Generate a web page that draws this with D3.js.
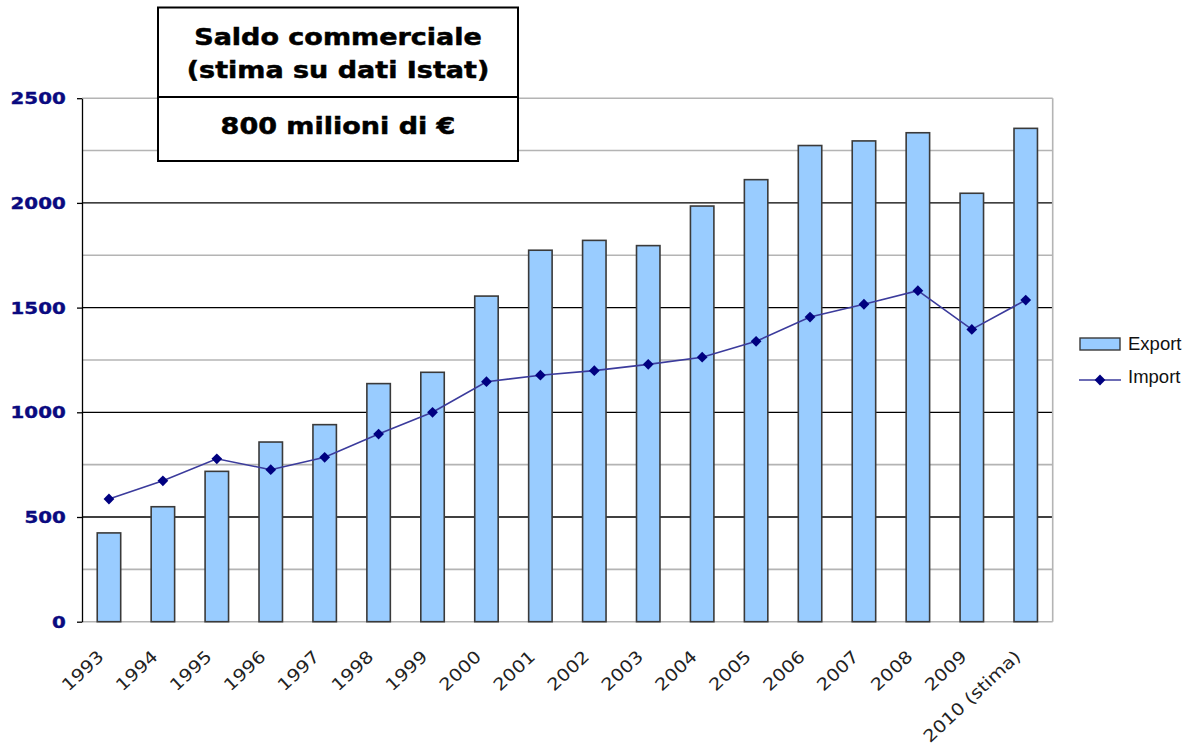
<!DOCTYPE html>
<html>
<head>
<meta charset="utf-8">
<script src="https://cdn.jsdelivr.net/npm/d3@7"></script>
<style>
  body { margin: 0; background: #fff; }
  svg { display: block; }
</style>
</head>
<body>
<div id="chart"></div>
<script>
// dati (milioni di euro)
var years = ["1993", "1994", "1995", "1996", "1997", "1998", "1999", "2000", "2001",
             "2002", "2003", "2004", "2005", "2006", "2007", "2008", "2009", "2010 (stima)"];
var exportVals = [424, 549, 718, 858, 941, 1137, 1191, 1555, 1774,
                  1821, 1796, 1985, 2111, 2274, 2296, 2335, 2046, 2356];
var importVals = [586, 673, 778, 726, 785, 896, 1000, 1146, 1177,
                  1199, 1229, 1263, 1339, 1455, 1516, 1581, 1396, 1536];
var titleLines = ["Saldo commerciale", "(stima su dati Istat)"];
var saldoText = "800 milioni di €";
var seriesNames = ["Export", "Import"];

var width = 1194, height = 749;
var stretch = 1.2; // il grafico originale e' allargato in orizzontale

var svg = d3.select("#chart").append("svg")
    .attr("width", width)
    .attr("height", height);

var x = d3.scaleBand()
    .domain(years)
    .range([82, 1052.7])
    .paddingInner(0.565)
    .paddingOuter(0.2825);

var y = d3.scaleLinear()
    .domain([0, 2500])
    .range([621.7, 98.2]);

var isMajor = d => d % 500 === 0 && d !== 0 && d !== 2500;

// griglia ogni 250
var gridVals = d3.range(0, 2501, 250);
svg.append("g").selectAll("line")
    .data(gridVals)
    .enter().append("line")
    .attr("x1", 82)
    .attr("x2", 1052.7)
    .attr("y1", d => y(d))
    .attr("y2", d => y(d))
    .attr("stroke", d => isMajor(d) ? "#000" : "#b4b4b4")
    .attr("stroke-width", d => isMajor(d) ? 1.3 : 1.6);

// bordo destro
svg.append("line")
    .attr("x1", 1052.7).attr("x2", 1052.7)
    .attr("y1", y(2500)).attr("y2", y(0))
    .attr("stroke", "#b4b4b4")
    .attr("stroke-width", 1.6);

// asse y
var yAxis = svg.append("g")
    .attr("transform", "translate(82,0)")
    .call(d3.axisLeft(y).tickValues(y.ticks(5)).tickSize(5).tickSizeOuter(0).tickFormat(""));
yAxis.select(".domain").attr("stroke", "#000").attr("stroke-width", 1.3);
yAxis.selectAll(".tick line").attr("stroke", "#000").attr("stroke-width", 1.3);

svg.append("g").selectAll("text")
    .data(y.ticks(5))
    .enter().append("text")
    .attr("transform", d => "translate(65.7," + y(d) + ") scale(" + stretch + ",1)")
    .attr("dy", "0.36em")
    .attr("text-anchor", "end")
    .attr("font-family", "DejaVu Sans")
    .attr("font-weight", "bold")
    .attr("font-size", 16.5)
    .attr("fill", "#0a0a80")
    .attr("stroke", "#0a0a80")
    .attr("stroke-width", 0.4)
    .text(d => d);

// barre export
svg.append("g").selectAll("rect")
    .data(exportVals)
    .enter().append("rect")
    .attr("x", (d, i) => x(years[i]))
    .attr("y", d => y(d))
    .attr("width", x.bandwidth())
    .attr("height", d => y(0) - y(d))
    .attr("fill", "#99ccff")
    .attr("stroke", "#3a3a3a")
    .attr("stroke-width", 1.6);

// linea import
var cx = i => x(years[i]) + x.bandwidth() / 2;
var line = d3.line()
    .x((d, i) => cx(i))
    .y(d => y(d));

svg.append("path")
    .datum(importVals)
    .attr("d", line)
    .attr("fill", "none")
    .attr("stroke", "#3b3b9c")
    .attr("stroke-width", 1.6);

var diamond = d3.symbol().type(d3.symbolSquare).size(58);
svg.append("g").selectAll("path")
    .data(importVals)
    .enter().append("path")
    .attr("d", diamond)
    .attr("transform", (d, i) => "translate(" + cx(i) + "," + y(d) + ") rotate(45)")
    .attr("fill", "#000080");

// etichette asse x
svg.append("g").selectAll("text")
    .data(years)
    .enter().append("text")
    .attr("transform", d => "translate(" + (x(d) + x.bandwidth() / 2 - 4) + ",658) rotate(-43) scale(1.15,1)")
    .attr("text-anchor", "end")
    .attr("font-family", "DejaVu Sans")
    .attr("font-size", 17)
    .attr("fill", "#222")
    .text(d => d);

// legenda
svg.append("rect")
    .attr("x", 1080).attr("y", 338)
    .attr("width", 40).attr("height", 12)
    .attr("fill", "#99ccff")
    .attr("stroke", "#3a3a3a")
    .attr("stroke-width", 1.4);
svg.append("line")
    .attr("x1", 1079).attr("x2", 1121)
    .attr("y1", 380).attr("y2", 380)
    .attr("stroke", "#3b3b9c")
    .attr("stroke-width", 1.6);
svg.append("path")
    .attr("d", diamond)
    .attr("transform", "translate(1100,380) rotate(45)")
    .attr("fill", "#000080");
svg.append("g").selectAll("text")
    .data(seriesNames)
    .enter().append("text")
    .attr("x", 1128)
    .attr("y", (d, i) => i === 0 ? 349.5 : 382.5)
    .attr("font-family", "Liberation Sans, Arial, sans-serif")
    .attr("font-size", 18.5)
    .attr("fill", "#111")
    .text(d => d);

// riquadro saldo
var box = svg.append("g");
box.append("rect")
    .attr("x", 158).attr("y", 7.5)
    .attr("width", 360).attr("height", 153.5)
    .attr("fill", "#fff")
    .attr("stroke", "#000")
    .attr("stroke-width", 2);
box.append("line")
    .attr("x1", 158).attr("x2", 518)
    .attr("y1", 97).attr("y2", 97)
    .attr("stroke", "#000")
    .attr("stroke-width", 2);
box.selectAll("text.t")
    .data(titleLines.concat([saldoText]))
    .enter().append("text")
    .attr("class", "t")
    .attr("transform", (d, i) => "translate(338," + [45, 78, 133.5][i] + ") scale(" + stretch + ",1)")
    .attr("text-anchor", "middle")
    .attr("font-family", "DejaVu Sans")
    .attr("font-weight", "bold")
    .attr("font-size", 22.5)
    .attr("fill", "#000")
    .attr("stroke", "#000")
    .attr("stroke-width", 0.5)
    .text(d => d);
</script>
</body>
</html>
